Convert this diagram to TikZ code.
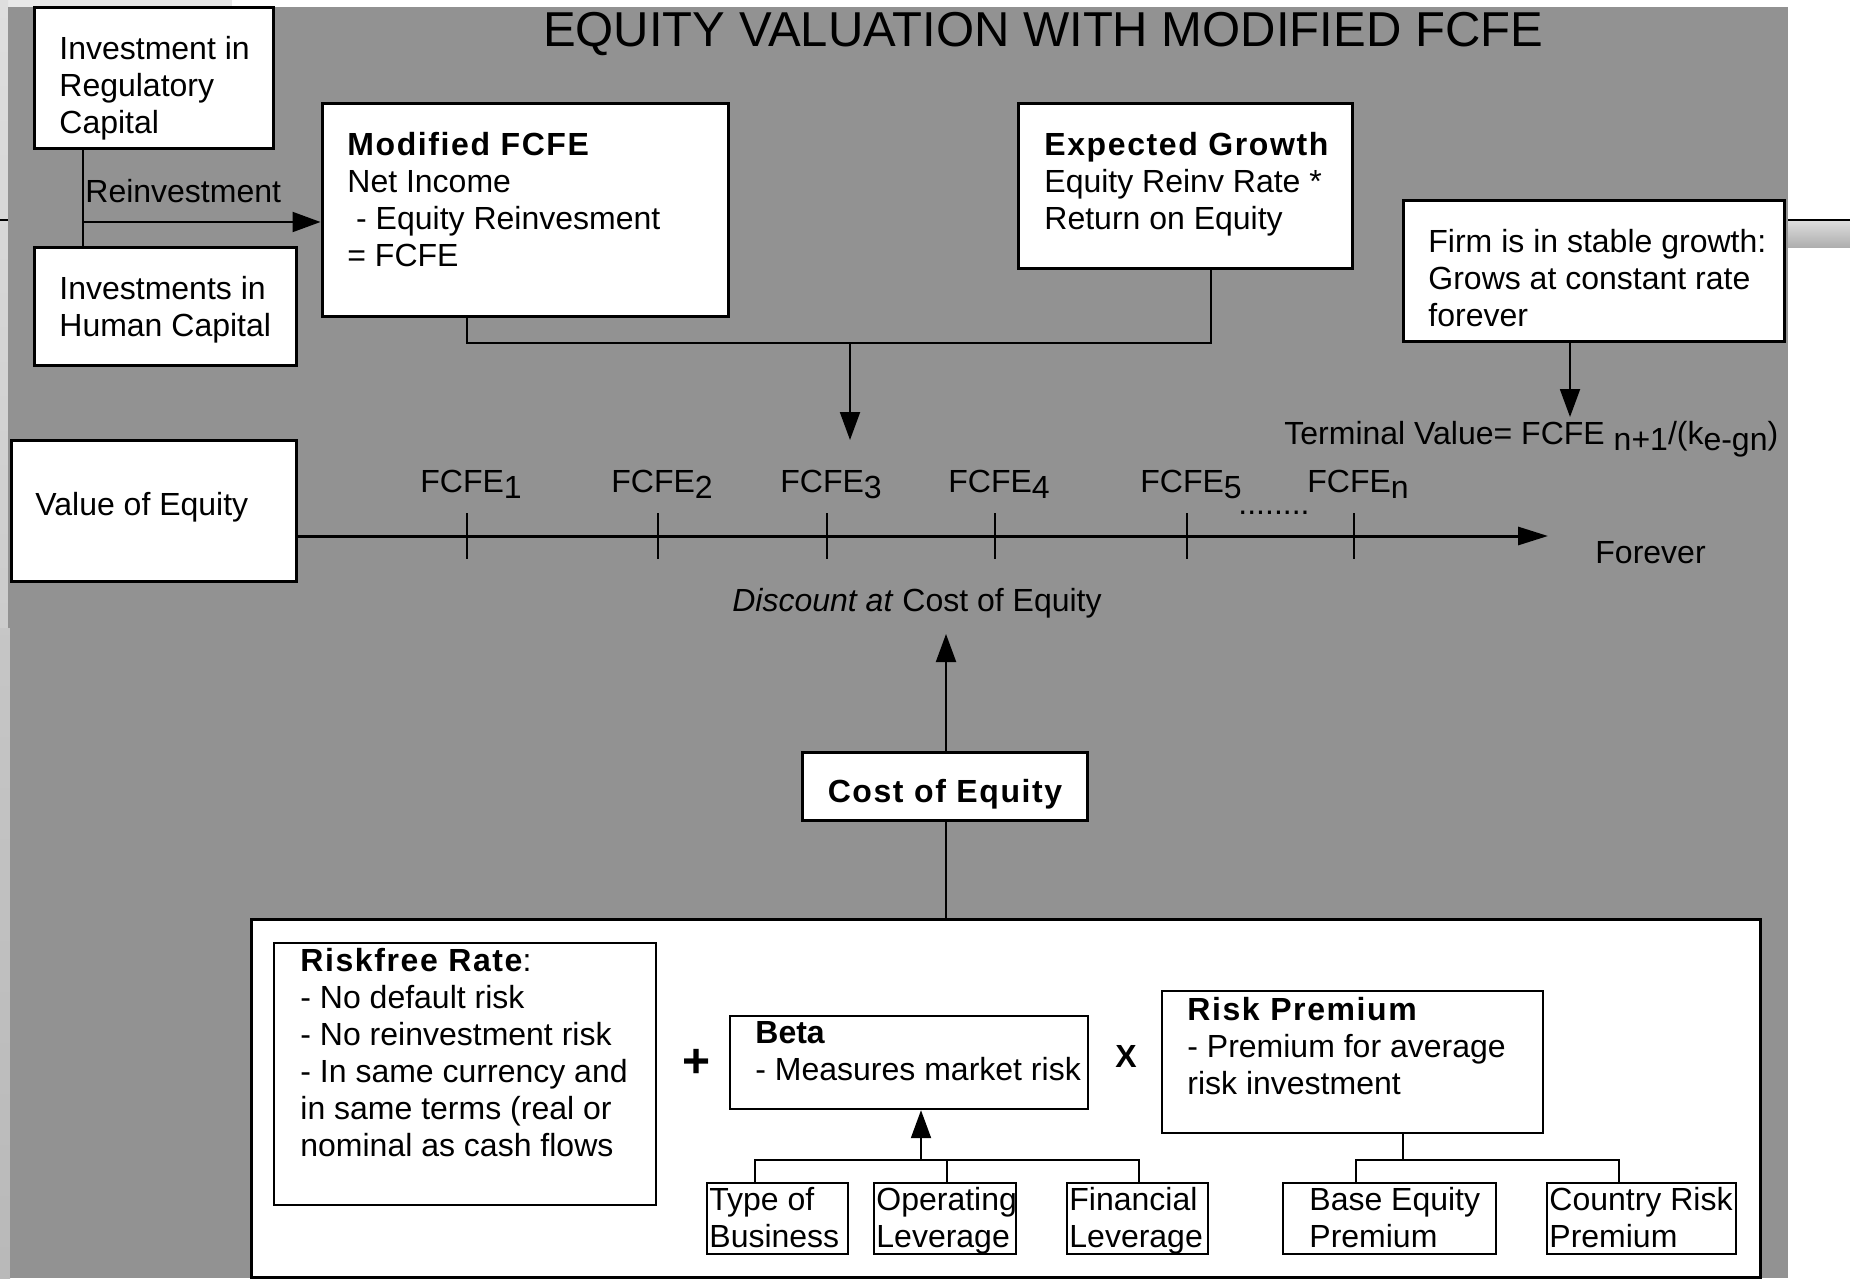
\documentclass[tikz,border=0pt]{standalone}
\usepackage{fontspec}
\setmainfont{Liberation Sans}
\newfontfamily\spfam[LetterSpace=5]{Liberation Sans}
\usetikzlibrary{arrows.meta,fit}
\definecolor{bggrey}{RGB}{146,146,146}
\definecolor{stripgrey}{RGB}{222,222,222}
\definecolor{topgrey}{RGB}{232,232,232}
\newcommand\sphead[1]{{\spfam\bfseries #1}}
\newcommand\lw[1]{\raisebox{-0.2em}{#1}}
\newcommand\fl{\rule{0pt}{12pt}}
\tikzset{
  box/.style={draw=black, fill=white, line width=1.5pt, inner sep=0pt},
  ibox/.style={draw=black, fill=white, line width=1.2pt, inner sep=0pt},
  sbox/.style={draw=black, fill=white, line width=1pt, inner sep=0pt},
  txt/.style={inner sep=0pt, anchor=base west, font=\fontsize{16pt}{18.5pt}\selectfont},
  mtxt/.style={inner sep=0pt, anchor=north west, align=left, font=\fontsize{16pt}{18.5pt}\selectfont},
  conn/.style={line width=1pt},
  arr/.style={conn, -{Triangle[length=14pt,width=10pt]}},
}
\begin{document}
\begin{tikzpicture}[x=0.5pt,y=-0.5pt]
\useasboundingbox (0,0) rectangle (1850,1278);
% background
\fill[white] (0,0) rectangle (1850,1278);
\fill[topgrey] (0,0) rectangle (232,7);
\shade[top color=stripgrey, bottom color=gray!55] (0,0) rectangle (8,1278);
\shade[top color=gray!45, bottom color=gray!55] (0,628) rectangle (10,1278);
\fill[bggrey] (8,7) rectangle (1788,628);
\fill[bggrey] (10,628) rectangle (1788,1278);
\draw[line width=1pt] (0,220) -- (8,220);
\shade[top color=gray!25, bottom color=gray!65] (1788,220) rectangle (1850,248);
\draw[line width=1pt] (1788,220) -- (1850,220);

% title
\node[anchor=base, inner sep=0pt, font=\fontsize{24.5pt}{28pt}\selectfont] (title) at (1043,47) {EQUITY VALUATION WITH MODIFIED FCFE};

% top-left investments
\node[box, fit={(34,8)(273,149)}] (irc) {};
\node[mtxt] (irct) at (59,35) {\fl Investment in\\Regulatory\\Capital};
\node[box, fit={(34,248)(296,365)}] (hum) {};
\node[mtxt] (humt) at (59,275) {\fl Investments in\\Human Capital};

% modified FCFE
\node[box, fit={(322,104)(728,317)}] (mf) {};
\node[mtxt] (mft) at (347,131) {\fl\sphead{Modified FCFE}\\Net Income\\\hspace*{4.4pt}- Equity Reinvesment\\= FCFE};

% reinvestment connector
\coordinate (rv) at (83,222);
\draw[conn] (irc.south -| rv) -- (hum.north -| rv);
\draw[arr] (rv) -- (mf.west |- rv);
\node[txt] (reinv) at (85,203) {Reinvestment};

% expected growth
\node[box, fit={(1018,104)(1352,269)}] (eg) {};
\node[mtxt] (egt) at (1044,131) {\fl\sphead{Expected Growth}\\Equity Reinv Rate *\\Return on Equity};

% stable growth
\node[box, fit={(1403,201)(1784,342)}] (sg) {};
\node[mtxt] (sgt) at (1428,228) {\fl Firm is in stable growth:\\Grows at constant rate\\forever};

% joining connector
\coordinate (jl) at (467,343);
\coordinate (jr) at (1211,343);
\coordinate (jm) at (850,343);
\coordinate (jt) at (850,440);
\draw[conn] (mf.south -| jl) -- (jl) -- (jr) -- (eg.south -| jr);
\draw[arr] (jm) -- (jt);

% terminal value
\coordinate (tvtop) at (1570,417);
\draw[arr] (sg.south -| tvtop) -- (tvtop);
\node[txt] (tv) at (1284,444) {Terminal Value= FCFE \lw{n+1}/(k\lw{e-gn})};

% value of equity & timeline
\node[box, fit={(11,440)(296,581)}] (voe) {};
\node[txt] (voet) at (35,515) {Value of Equity};
\coordinate (tend) at (1548,536);
\draw[line width=1.5pt, -{Triangle[length=15pt,width=9pt]}] (voe.east |- tend) -- (tend);
\foreach \x in {467,658,827,995,1187,1354} {
  \draw[conn] (\x,513) -- (\x,559);
}
\node[txt] (f1) at (420,492) {FCFE\lw{1}};
\node[txt] (f2) at (611,492) {FCFE\lw{2}};
\node[txt] (f3) at (780,492) {FCFE\lw{3}};
\node[txt] (f4) at (948,492) {FCFE\lw{4}};
\node[txt] (f5) at (1140,492) {FCFE\lw{5}};
\node[txt] (fn) at (1307,492) {FCFE\lw{n}};
\node[txt] (dots) at (1238,514) {........};
\node[txt] (forever) at (1595,563) {Forever};
\node[txt, anchor=base] (disc) at (917,611) {\textit{Discount at} Cost of Equity};

% cost of equity
\node[box, fit={(802,752)(1087,820)}] (coe) {};
\node[inner sep=0pt, anchor=base, font=\fontsize{16pt}{18.5pt}\selectfont] (coet) at (945,802) {\sphead{Cost of Equity}};
\coordinate (dtip) at (946,634);
\draw[arr] (coe.north -| dtip) -- (dtip);

% big box
\node[box, fit={(251,919)(1760,1277)}] (big) {};
\draw[conn] (coe.south -| dtip) -- (big.north -| dtip);

% riskfree
\node[ibox, fit={(274,943)(656,1205)}] (rf) {};
\node[mtxt] (rft) at (300,947) {\fl\sphead{Riskfree Rate}:\\- No default risk\\- No reinvestment risk\\- In same currency and\\in same terms (real or\\nominal as cash flows};
\node[inner sep=0pt, font=\bfseries\fontsize{24pt}{26pt}\selectfont] (plus) at (697,1063) {+};

% beta
\node[ibox, fit={(730,1016)(1088,1109)}] (beta) {};
\node[mtxt] (betat) at (755,1019) {\fl\textbf{Beta}\\- Measures market risk};
\node[inner sep=0pt, font=\bfseries\fontsize{16pt}{18pt}\selectfont] (times) at (1126,1056) {X};

% risk premium
\node[ibox, fit={(1162,991)(1543,1133)}] (rp) {};
\node[mtxt] (rpt) at (1187,996) {\fl\sphead{Risk Premium}\\- Premium for average\\risk investment};

% small boxes
\node[sbox, fit={(707,1183)(848,1254)}] (tb) {};
\node[mtxt] (tbt) at (709,1186) {\fl Type of\\Business};
\node[sbox, fit={(874,1183)(1016,1254)}] (ol) {};
\node[mtxt] (olt) at (876,1186) {\fl Operating\\Leverage};
\node[sbox, fit={(1067,1183)(1208,1254)}] (fl) {};
\node[mtxt] (flt) at (1069,1186) {\fl Financial\\Leverage};
\node[sbox, fit={(1283,1183)(1496,1254)}] (be) {};
\node[mtxt] (bet) at (1309,1186) {\fl Base Equity\\Premium};
\node[sbox, fit={(1547,1183)(1736,1254)}] (cr) {};
\node[mtxt] (crt) at (1549,1186) {\fl Country Risk\\Premium};

% beta tree
\coordinate (bt1) at (755,1160);
\coordinate (bt2) at (947,1160);
\coordinate (bt3) at (1139,1160);
\coordinate (ba) at (921,1160);
\draw[conn] (tb.north -| bt1) -- (bt1) -- (bt3) -- (fl.north -| bt3);
\draw[conn] (bt2) -- (ol.north -| bt2);
\draw[arr] (ba) -- (beta.south -| ba);

% risk premium tree
\coordinate (r0) at (1403,1160);
\coordinate (r1) at (1356,1160);
\coordinate (r2) at (1619,1160);
\draw[conn] (rp.south -| r0) -- (r0);
\draw[conn] (be.north -| r1) -- (r1) -- (r2) -- (cr.north -| r2);
\end{tikzpicture}
\end{document}
